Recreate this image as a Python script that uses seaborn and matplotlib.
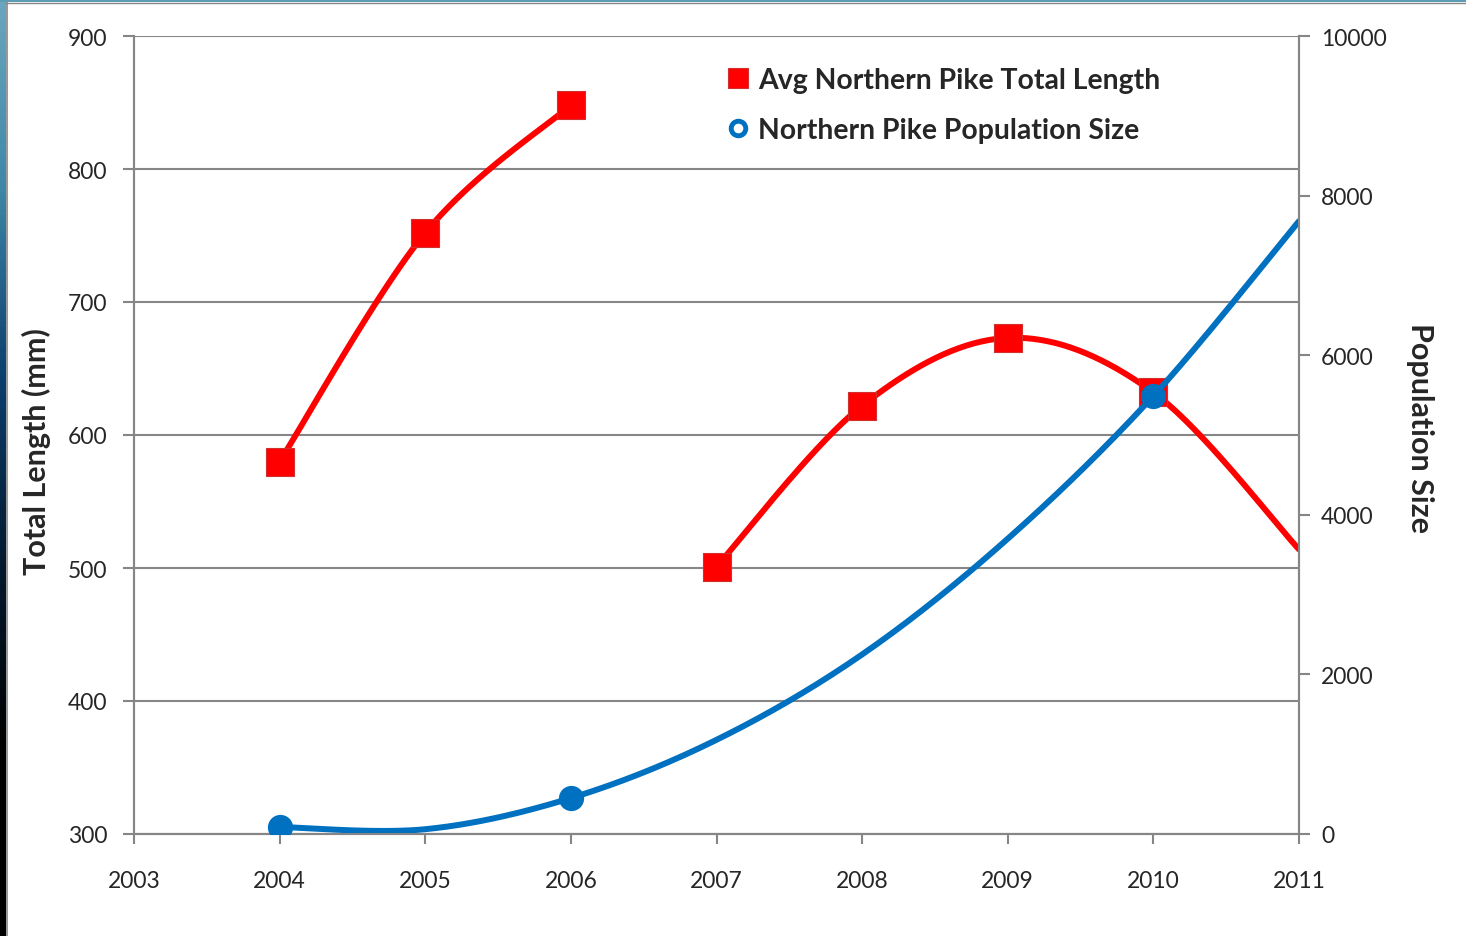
import numpy as np
import pandas as pd
import matplotlib
matplotlib.use("Agg")
import matplotlib.pyplot as plt
from matplotlib.lines import Line2D
from matplotlib.colors import LinearSegmentedColormap
import seaborn as sns

# avg total length (mm), two separate runs
years_a = [2004, 2005, 2006]
length_a = [580, 752, 848]
years_b = [2007, 2008, 2009, 2010, 2011]
length_b = [501, 622, 673, 632, 514]
length_marked_years = [2004, 2005, 2006, 2007, 2008, 2009, 2010]

# population size
pop_years = [2004, 2005, 2006, 2007, 2008, 2009, 2010, 2011]
pop_size = [88, 60, 450, 1180, 2250, 3700, 5490, 7680]
pop_marked_years = [2004, 2006, 2010]

x_ticks = [2003, 2004, 2005, 2006, 2007, 2008, 2009, 2010, 2011]
left_ticks = [300, 400, 500, 600, 700, 800, 900]
right_ticks = [0, 2000, 4000, 6000, 8000, 10000]

RED = "#ff0000"
BLUE = "#0070c0"
GRAY = "#868686"


def smooth(xs, ys, n=40):
    # excel style smoothed line: cubic bezier with 1/6 neighbour tangents
    p = np.column_stack([xs, ys]).astype(float)
    out = []
    for i in range(len(p) - 1):
        p0 = p[i - 1] if i > 0 else p[i]
        p3 = p[i + 2] if i + 2 < len(p) else p[i + 1]
        c1 = p[i] + (p[i + 1] - p0) / 6
        c2 = p[i + 1] - (p3 - p[i]) / 6
        t = np.linspace(0, 1, n)[:, None]
        seg = ((1 - t) ** 3) * p[i] + 3 * ((1 - t) ** 2) * t * c1 + 3 * (1 - t) * t ** 2 * c2 + t ** 3 * p[i + 1]
        out.append(seg if i == 0 else seg[1:])
    pts = np.vstack(out)
    return pd.DataFrame({"x": pts[:, 0], "y": pts[:, 1]})


sns.set_style("white")
plt.rcParams["font.family"] = ["Lato", "DejaVu Sans"]

fig = plt.figure(figsize=(14.66, 9.37), dpi=100)
ax = fig.add_axes([134 / 1466, 1 - 835 / 937, (1299 - 134) / 1466, (835 - 37) / 937])
ax2 = ax.twinx()

# red length curves
for xs, ys in [(years_a, length_a), (years_b, length_b)]:
    sns.lineplot(data=smooth(xs, ys), x="x", y="y", sort=False, estimator=None,
                 color=RED, linewidth=4.3, ax=ax, legend=False)
len_df = pd.DataFrame({"year": years_a + years_b, "length": length_a + length_b})
len_df = len_df[len_df["year"].isin(length_marked_years)]
sns.scatterplot(data=len_df, x="year", y="length", marker="s", s=380, color=RED,
                edgecolor="#d03030", linewidth=0.8, ax=ax, legend=False, zorder=5)

# blue population curve
sns.lineplot(data=smooth(pop_years, pop_size), x="x", y="y", sort=False, estimator=None,
             color=BLUE, linewidth=4.3, ax=ax2, legend=False)
pop_df = pd.DataFrame({"year": pop_years, "pop": pop_size})
pop_df = pop_df[pop_df["year"].isin(pop_marked_years)]
sns.scatterplot(data=pop_df, x="year", y="pop", marker="o", s=330, color=BLUE,
                edgecolor=BLUE, linewidth=0, ax=ax2, legend=False, zorder=5)

ax.set_xlim(2003, 2011)
ax.set_ylim(300, 900)
ax2.set_ylim(0, 10000)
ax.set_xticks(x_ticks)
ax.set_xticklabels([str(v) for v in x_ticks])
ax.set_yticks(left_ticks)
ax2.set_yticks(right_ticks)
ax2.set_yticklabels([str(v) for v in right_ticks])

ax.yaxis.grid(True, color=GRAY, linewidth=1.5)
ax.xaxis.grid(False)
ax2.grid(False)
ax.set_axisbelow(True)

for a in (ax, ax2):
    for s in a.spines.values():
        s.set_color(GRAY)
        s.set_linewidth(1.5)
    a.spines["top"].set_visible(False)

ax.tick_params(axis="x", direction="out", length=7, width=1.5, color=GRAY,
               labelsize=16.5, pad=19, bottom=True)
ax.tick_params(axis="y", direction="out", length=8, width=1.5, color=GRAY,
               labelsize=16.5, pad=11, left=True)
ax2.tick_params(axis="y", direction="out", length=8, width=1.5, color=GRAY,
                labelsize=16.5, pad=8, right=True)

ax.set_xlabel("")
ax.set_ylabel("Total Length (mm)", fontsize=22, fontweight="bold", labelpad=12)
ax2.set_ylabel("Population Size", fontsize=22, fontweight="bold", rotation=270,
               labelpad=34)
ax.yaxis.label.set_y(0.48)
ax2.yaxis.label.set_y(0.51)

handles = [
    Line2D([], [], linestyle="none", marker="s", markersize=15, color=RED,
           markeredgecolor="#d03030", markeredgewidth=0.8),
    Line2D([], [], linestyle="none", marker="o", markersize=10.5, markerfacecolor="white",
           markeredgecolor=BLUE, markeredgewidth=3.5),
]
fig.legend(handles, ["Avg Northern Pike Total Length", "Northern Pike Population Size"],
           loc="upper left", bbox_to_anchor=(727 / 1466, 1 - 68 / 937), frameon=False,
           prop={"family": "Lato", "weight": "bold", "size": 20.4},
           handlelength=0.8, handletextpad=0.3, labelspacing=0.85,
           borderpad=0, borderaxespad=0)

# slide background strips at the left and top edges
cmap = LinearSegmentedColormap.from_list("edge", ["#6aa6bf", "#3f87a8", "#0b3f6e", "#041a30", "#000000", "#000000"])
edge = fig.add_axes([0, 0, 6 / 1466, 1])
edge.imshow(np.linspace(0, 1, 200)[:, None], aspect="auto", cmap=cmap)
edge.set_axis_off()
top = fig.add_axes([0, 1 - 3 / 937, 1, 3 / 937])
top.set_facecolor("#5c9db6")
top.set_xticks([])
top.set_yticks([])
for s in top.spines.values():
    s.set_visible(False)
fig.add_artist(Line2D([6.5 / 1466, 6.5 / 1466], [0, 1 - 3 / 937], color=GRAY, linewidth=1.2))
fig.add_artist(Line2D([6 / 1466, 1], [1 - 3.5 / 937, 1 - 3.5 / 937], color=GRAY, linewidth=1.0))

fig.savefig("out.png", dpi=100)
